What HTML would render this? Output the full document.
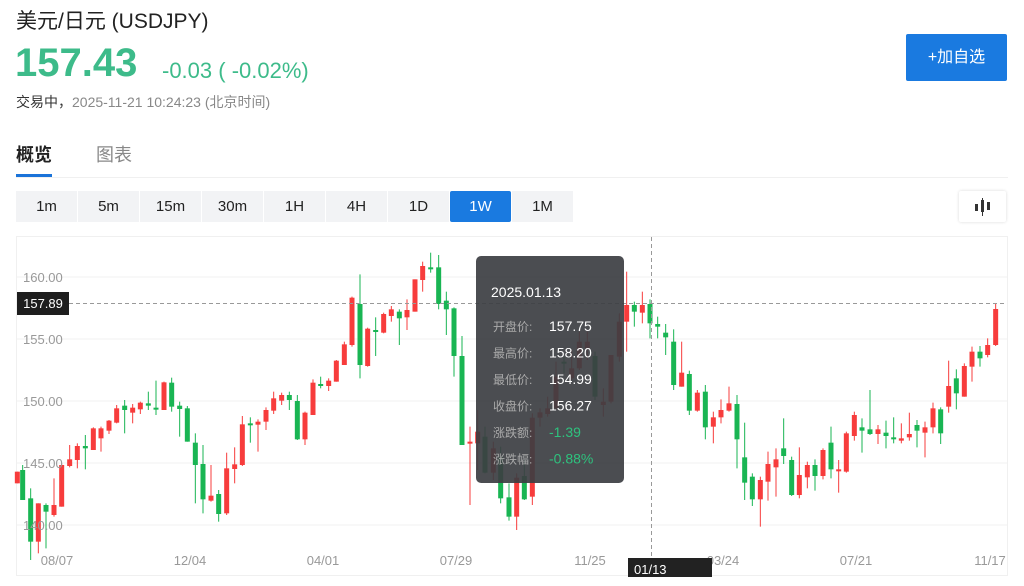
<!DOCTYPE html>
<html><head><meta charset="utf-8"><style>
body{margin:0;width:1024px;height:586px;background:#fff;font-family:"Liberation Sans","Noto Sans CJK SC",sans-serif;position:relative;overflow:hidden}
.a{position:absolute;white-space:nowrap}
.btn{position:absolute;top:191px;height:31px;width:61px;background:#f2f3f5;color:#222;font-size:15px;line-height:31px;text-align:center}
</style></head><body>
<div class="a" style="left:16px;top:5px;font-size:21px;color:#222">美元/日元 (USDJPY)</div>
<div class="a" style="left:15px;top:41px;font-size:40px;font-weight:bold;color:#3dbb8a">157.43</div>
<div class="a" style="left:162px;top:58px;font-size:22px;color:#3dbb8a">-0.03 ( -0.02%)</div>
<div class="a" style="left:16px;top:92px;font-size:14px;color:#333;font-weight:normal">交易中，<span style="color:#888">2025-11-21 10:24:23 (北京时间)</span></div>
<div class="a" style="left:906px;top:34px;width:101px;height:47px;background:#1a7ae0;border-radius:2px;color:#fff;font-size:16px;line-height:47px;text-align:center">+加自选</div>
<div class="a" style="left:16px;top:141px;font-size:18px;font-weight:bold;color:#222">概览</div>
<div class="a" style="left:96px;top:141px;font-size:18px;color:#888">图表</div>
<div class="a" style="left:16px;top:174px;width:36px;height:3px;background:#1a73d9"></div>
<div class="a" style="left:16px;top:177px;width:992px;height:1px;background:#f0f0f0"></div>
<div class="btn" style="left:16px">1m</div><div class="btn" style="left:78px">5m</div><div class="btn" style="left:140px">15m</div><div class="btn" style="left:202px">30m</div><div class="btn" style="left:264px">1H</div><div class="btn" style="left:326px">4H</div><div class="btn" style="left:388px">1D</div><div class="btn" style="left:450px;background:#1a7ae0;color:#fff;border-radius:2px">1W</div><div class="btn" style="left:512px">1M</div>
<div class="a" style="left:959px;top:191px;width:47px;height:31px;background:#fff;box-shadow:0 0 3px rgba(0,0,0,.15);border-radius:2px;text-align:center">
<svg width="22" height="18" style="margin-top:7px"><g fill="#333"><rect x="3" y="6" width="3" height="7"/><rect x="9" y="2" width="3" height="12"/><rect x="10" y="0" width="1" height="18"/><rect x="15" y="4" width="3" height="8"/></g></svg></div>
<svg id="c" class="a" style="left:0;top:0" width="1024" height="586"></svg>
<script>
var s='';
s+='<rect x="16.5" y="236.5" width="991" height="339" fill="none" stroke="#f0f0f0"/>';
var gl=[[277,'160.00'],[339,'155.00'],[401,'150.00'],[463,'145.00'],[525,'140.00']];
gl.forEach(function(g){s+='<line x1="17" x2="1007" y1="'+g[0]+'" y2="'+g[0]+'" stroke="#f0f0f0"/>';});
var G='#19b553',R='#f73c3c';
function add(x,c,bt,bb,wt,wb){var col=c=='g'?G:R;s+='<line x1="'+x+'" x2="'+x+'" y1="'+wt+'" y2="'+wb+'" stroke="'+col+'" stroke-width="1"/>';s+='<rect x="'+(x-2.5)+'" y="'+bt+'" width="5" height="'+Math.max(bb-bt,2)+'" fill="'+col+'"/>';}
var z1=[[52,'r',725,760,725,760],[68,'g',720,810,705,810],[92,'g',805,935,775,990],[115,'r',820,935,820,970],[138,'g',825,845,820,955],[162,'r',825,855,745,860],[185,'r',705,830,700,830],[209,'r',688,708,645,712],[232,'r',648,690,640,715],[256,'g',648,655,615,718],[280,'r',595,660,592,660],[303,'r',595,625,590,665],[327,'r',572,602,570,612],[350,'r',535,578,525,580],[374,'g',527,540,510,610],[398,'r',533,548,522,580],[421,'r',518,538,515,552],[445,'g',520,527,485,540],[468,'g',533,537,452,555],[492,'r',457,540,455,540],[515,'g',458,530,443,545],[539,'g',527,537,515,620],[562,'g',535,635,528,635],[586,'g',638,705,610,820],[609,'g',702,808,645,850],[633,'r',797,812,705,815],[656,'g',792,852,780,875],[680,'r',715,850,668,855],[704,'r',703,717,652,760],[727,'r',583,705,558,708],[751,'g',580,584,562,638],[774,'r',575,584,568,665],[798,'r',540,575,532,600],[821,'r',505,542,485,552],[845,'r',495,512,488,525],[868,'g',495,510,485,540],[892,'g',513,628,495,630],[915,'r',548,628,545,645],[939,'r',458,555,448,555],[962,'g',462,466,440,475],[986,'r',452,468,445,483],[1009,'r',392,455,390,455],[1033,'r',343,405,335,405],[1056,'r',203,345,200,350],[1080,'g',222,405,133,445],[1103,'r',296,408,293,410],[1127,'g',300,303,262,378],[1151,'r',252,308,248,310],[1174,'r',238,258,228,275],[1198,'g',245,265,238,345],[1221,'r',240,262,208,300],[1245,'r',148,245,148,245],[1268,'r',108,150,95,185],[1292,'g',112,117,68,128],[1316,'g',112,222,75,238],[1339,'g',212,238,185,315],[1362,'g',235,378,232,440],[1386,'g',378,645,318,645]];
z1.forEach(function(d){add(d[0]/3,d[1],230+d[2]/3,230+d[3]/3,230+d[4]/3,230+d[5]/3);});
var z3=[[30,'r',575,580,530,765],[53,'r',545,580,480,660],[75,'g',560,668,530,670],[100,'r',595,668,575,690],[122,'g',620,745,590,760],[147,'g',742,800,700,812],[170,'r',683,800,670,840],[193,'g',678,748,630,750],[217,'r',503,740,490,765],[240,'r',487,503,475,530],[263,'r',475,492,440,500],[288,'r',380,475,335,480],[312,'g',335,340,320,370],[335,'r',355,385,300,390],[358,'r',275,355,245,360],[382,'r',275,295,245,330],[405,'g',318,440,305,450],[430,'r',455,465,415,500],[453,'r',315,455,315,460],[478,'r',215,320,190,335],[500,'r',165,215,65,305],[523,'g',165,185,155,230],[547,'r',165,188,125,220],[570,'g',162,220,148,265]];
z3.forEach(function(d){add(460+d[0]/3,d[1],250+d[2]/3,250+d[3]/3,250+d[4]/3,250+d[5]/3);});
var z2=[[437,'g',282,290,260,325],[461,'g',308,322,282,375],[485,'g',335,465,298,480],[509,'r',428,470,335,470],[532,'g',432,542,422,555],[556,'r',488,542,480,545],[580,'g',485,592,465,628],[604,'r',562,590,545,640],[627,'r',540,562,508,580],[651,'r',520,542,470,545],[675,'g',522,628,495,715],[698,'g',682,758,578,810],[721,'g',740,808,730,828],[745,'r',750,808,740,890],[768,'r',702,755,665,812],[792,'r',688,712,655,800],[815,'g',655,678,565,702],[839,'g',690,795,680,798],[862,'r',735,795,652,805],[886,'r',705,742,695,775],[909,'g',705,738,688,782],[933,'r',660,738,655,748],[957,'g',638,718,590,745],[980,'r',718,722,690,788],[1003,'r',610,725,605,728],[1027,'r',555,618,545,632],[1050,'g',592,602,565,668],[1074,'g',598,612,480,615],[1098,'r',598,612,585,642],[1122,'g',608,618,572,655],[1145,'g',622,628,562,640],[1168,'r',625,632,580,640],[1192,'r',612,622,548,632],[1215,'g',585,602,570,652],[1239,'r',592,608,575,682],[1263,'r',535,592,518,610],[1286,'g',538,610,532,642],[1310,'r',468,530,392,548],[1333,'g',445,490,418,538],[1357,'r',408,500,400,500],[1380,'r',365,410,350,455],[1404,'g',365,385,348,410],[1427,'r',345,375,325,382],[1451,'r',237,345,222,348]];
z2.forEach(function(d){add(512+d[0]/3,d[1],230+d[2]/3,230+d[3]/3,230+d[4]/3,230+d[5]/3);});
gl.forEach(function(g){s+='<text x="23" y="'+(g[0]+5)+'" font-size="13" fill="#999" font-family="Liberation Sans">'+g[1]+'</text>';});
[['08/07',57],['12/04',190],['04/01',323],['07/29',456],['11/25',590],['03/24',723],['07/21',856],['11/17',990]].forEach(function(t){s+='<text x="'+t[1]+'" y="565" font-size="13" fill="#999" text-anchor="middle" font-family="Liberation Sans">'+t[0]+'</text>';});
s+='<line x1="69" x2="1007" y1="303.5" y2="303.5" stroke="#999" stroke-dasharray="4,3"/>';
s+='<line x1="651.5" x2="651.5" y1="237" y2="576" stroke="#999" stroke-dasharray="4,3"/>';
s+='<rect x="17" y="292" width="52" height="23" fill="#1e1e1e"/><text x="43" y="308" font-size="13" fill="#fff" text-anchor="middle" font-family="Liberation Sans">157.89</text>';
s+='<rect x="628" y="558" width="84" height="19" fill="#222"/><text x="634" y="574" font-size="13" fill="#fff" font-family="Liberation Sans">01/13</text>';
s+='<rect x="476" y="256" width="148" height="227" rx="5" fill="rgba(60,62,66,0.92)"/>';
s+='<text x="491" y="297" font-size="14" fill="#fff" font-family="Liberation Sans">2025.01.13</text>';
var rows=[['开盘价:','157.75','#fff'],['最高价:','158.20','#fff'],['最低价:','154.99','#fff'],['收盘价:','156.27','#fff'],['涨跌额:','-1.39','#2ec27e'],['涨跌幅:','-0.88%','#2ec27e']];
rows.forEach(function(r,i){var y=331+i*26.5;s+='<text x="493" y="'+y+'" font-size="12" fill="#aaa" font-family="Liberation Sans,Noto Sans CJK SC,sans-serif">'+r[0]+'</text><text x="549" y="'+y+'" font-size="14" fill="'+r[2]+'" font-family="Liberation Sans">'+r[1]+'</text>';});
document.getElementById('c').innerHTML=s;
</script>
</body></html>
